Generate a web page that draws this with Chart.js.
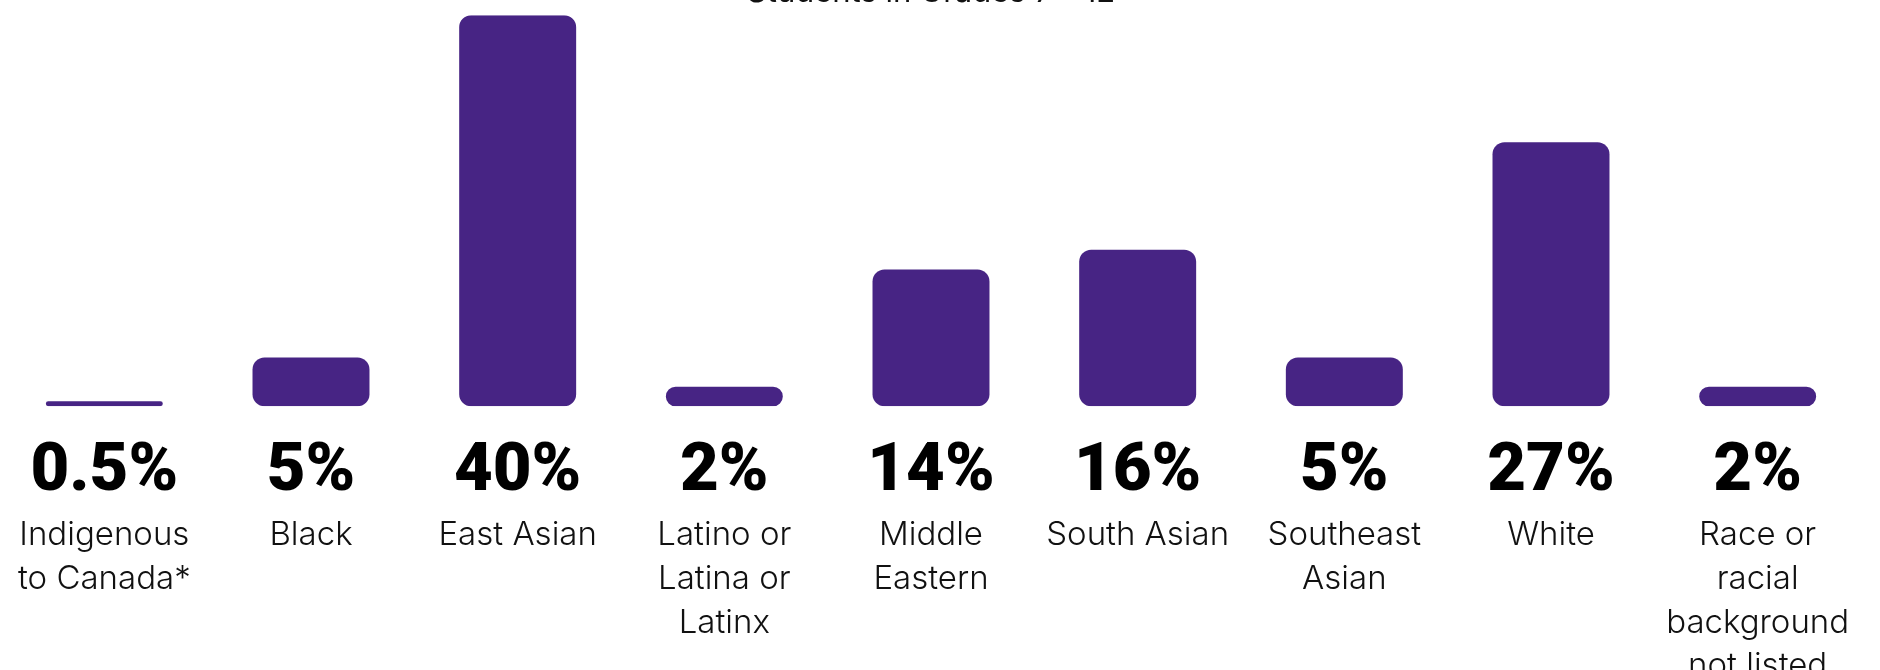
<!DOCTYPE html>
<html>
<head>
<meta charset="utf-8">
<script src="https://cdn.jsdelivr.net/npm/chart.js@4"></script>
<style>
  html, body { margin: 0; padding: 0; background: #fff; overflow: hidden; }
  /* canvas is taller than the window: title and last label run off the edges */
  .wrap { position: absolute; left: 0; top: -40px; width: 1880px; height: 760px; }
</style>
</head>
<body>
<div class="wrap"><canvas id="chart"></canvas></div>
<script>
/* ── DATA ─────────────────────────────────────────────────── */
const categories = [
  ['Indigenous', 'to Canada*'],
  ['Black'],
  ['East Asian'],
  ['Latino or', 'Latina or', 'Latinx'],
  ['Middle', 'Eastern'],
  ['South Asian'],
  ['Southeast', 'Asian'],
  ['White'],
  ['Race or', 'racial', 'background', 'not listed']
];
const shares = [0.5, 5, 40, 2, 14, 16, 5, 27, 2];
const shareLabels = ['0.5%', '5%', '40%', '2%', '14%', '16%', '5%', '27%', '2%'];
const titleText = 'Students in Grades 7 - 12';

const PURPLE = '#472484';
const NUM_FONT = 'Roboto, Inter, sans-serif';
const TXT_FONT = 'Inter, "Noto Sans", sans-serif';

/* ── CHART ────────────────────────────────────────────────── */
new Chart(document.getElementById('chart'), {
  type: 'bar',
  data: {
    labels: shareLabels,
    datasets: [{
      data: shares,
      backgroundColor: PURPLE,
      borderRadius: 12,
      borderSkipped: false,
      categoryPercentage: 1,
      barPercentage: 0.566,
      xAxisID: 'x'
    }]
  },
  options: {
    responsive: true,
    maintainAspectRatio: false,
    animation: false,
    layout: { padding: { left: 1, right: 19, top: 0, bottom: 33 } },
    plugins: {
      legend: { display: false },
      tooltip: { enabled: false },
      title: {
        display: true,
        text: titleText,
        color: '#111',
        font: { family: TXT_FONT, size: 31, weight: '400', lineHeight: 1.2 },
        padding: { top: 14, bottom: 4 }
      }
    },
    scales: {
      // percentage row, right under the bars
      x: {
        type: 'category',
        labels: shareLabels,
        position: 'bottom',
        weight: 0,
        offset: true,
        grid: { display: false, drawTicks: true, tickLength: 25.5 },
        border: { display: false },
        ticks: {
          color: '#000',
          padding: 8,
          maxRotation: 0,
          autoSkip: false,
          font: { family: NUM_FONT, size: 67, weight: '900', lineHeight: 1 }
        }
      },
      // category names row
      x2: {
        type: 'category',
        labels: categories,
        position: 'bottom',
        weight: 1,
        offset: true,
        grid: { display: false, drawTicks: false },
        border: { display: false },
        ticks: {
          color: '#111',
          padding: -1,
          maxRotation: 0,
          autoSkip: false,
          font: { family: TXT_FONT, size: 33, weight: '300', lineHeight: 1.32 }
        }
      },
      y: {
        display: false,
        min: 0,
        max: 40
      }
    }
  }
});
</script>
</body>
</html>
